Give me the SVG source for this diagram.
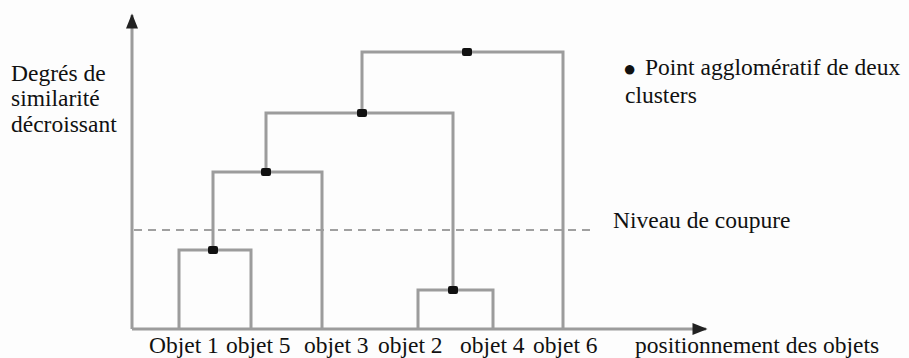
<svg xmlns="http://www.w3.org/2000/svg" width="909" height="358" viewBox="0 0 909 358">
  <style>
    .link { fill: none; stroke: #9c9c9c; stroke-width: 3; }
    .axis { fill: none; stroke: #9c9c9c; stroke-width: 3; }
    .cut { fill: none; stroke: #a0a0a0; stroke-width: 2; stroke-dasharray: 8 6; }
    .dot { fill: #111; }
  </style>
  <defs>
    <marker id="arrow" viewBox="0 0 10 10" refX="9" refY="5" markerWidth="6" markerHeight="5" orient="auto" markerUnits="strokeWidth">
      <path d="M0,1 L10,5 L0,9 Z" fill="#222"/>
    </marker>
  </defs>

  <rect x="0" y="0" width="909" height="358" fill="#fdfdfd"/>

  <!-- axes -->
  <g id="axes">
    <line class="axis" x1="132" y1="329" x2="132" y2="15" marker-end="url(#arrow)"/>
    <line class="axis" x1="132" y1="329" x2="706" y2="329" marker-end="url(#arrow)"/>
  </g>

  <!-- cut level -->
  <line class="cut" x1="134" y1="230" x2="596" y2="230"/>

  <!-- dendrogram branches -->
  <g id="connectors">
    <path class="link" d="M179,329 V250 H251 V329"/>
    <path class="link" d="M213,250 V172 H322 V329"/>
    <path class="link" d="M418,329 V290 H493 V329"/>
    <path class="link" d="M266,172 V113 H453 V290"/>
    <path class="link" d="M362,113 V52 H563 V329"/>
  </g>

  <!-- agglomeration points -->
  <g id="merge-1-5"><rect class="dot" x="208" y="246" width="10" height="8" rx="2"/></g>
  <g id="merge-15-3"><rect class="dot" x="261" y="168" width="10" height="8" rx="2"/></g>
  <g id="merge-2-4"><rect class="dot" x="448" y="286" width="10" height="8" rx="2"/></g>
  <g id="merge-153-24"><rect class="dot" x="357" y="109" width="10" height="8" rx="2"/></g>
  <g id="merge-all"><rect class="dot" x="462" y="48" width="10" height="8" rx="2"/></g>

  <!-- all labels share one serif face -->
  <g font-family="Liberation Serif, DejaVu Serif, serif" font-size="23.5" fill="#111">
    <g id="y-label">
      <text x="11" y="81">Degrés de</text>
      <text x="11" y="106">similarité</text>
      <text x="11" y="132">décroissant</text>
    </g>
    <g id="legend">
      <text x="623" y="76"><tspan font-size="22">●</tspan><tspan x="645" y="75">Point agglomératif de deux</tspan></text>
      <text x="625" y="103">clusters</text>
    </g>
    <g id="cut-label">
      <text x="613" y="228">Niveau de coupure</text>
    </g>
    <g id="leaves">
      <text x="149" y="353">Objet 1</text>
      <text x="226" y="353">objet 5</text>
      <text x="304" y="353">objet 3</text>
      <text x="378" y="353">objet 2</text>
      <text x="460" y="353">objet 4</text>
      <text x="533" y="353">objet 6</text>
      <text x="635" y="353">positionnement des objets</text>
    </g>
  </g>
</svg>
